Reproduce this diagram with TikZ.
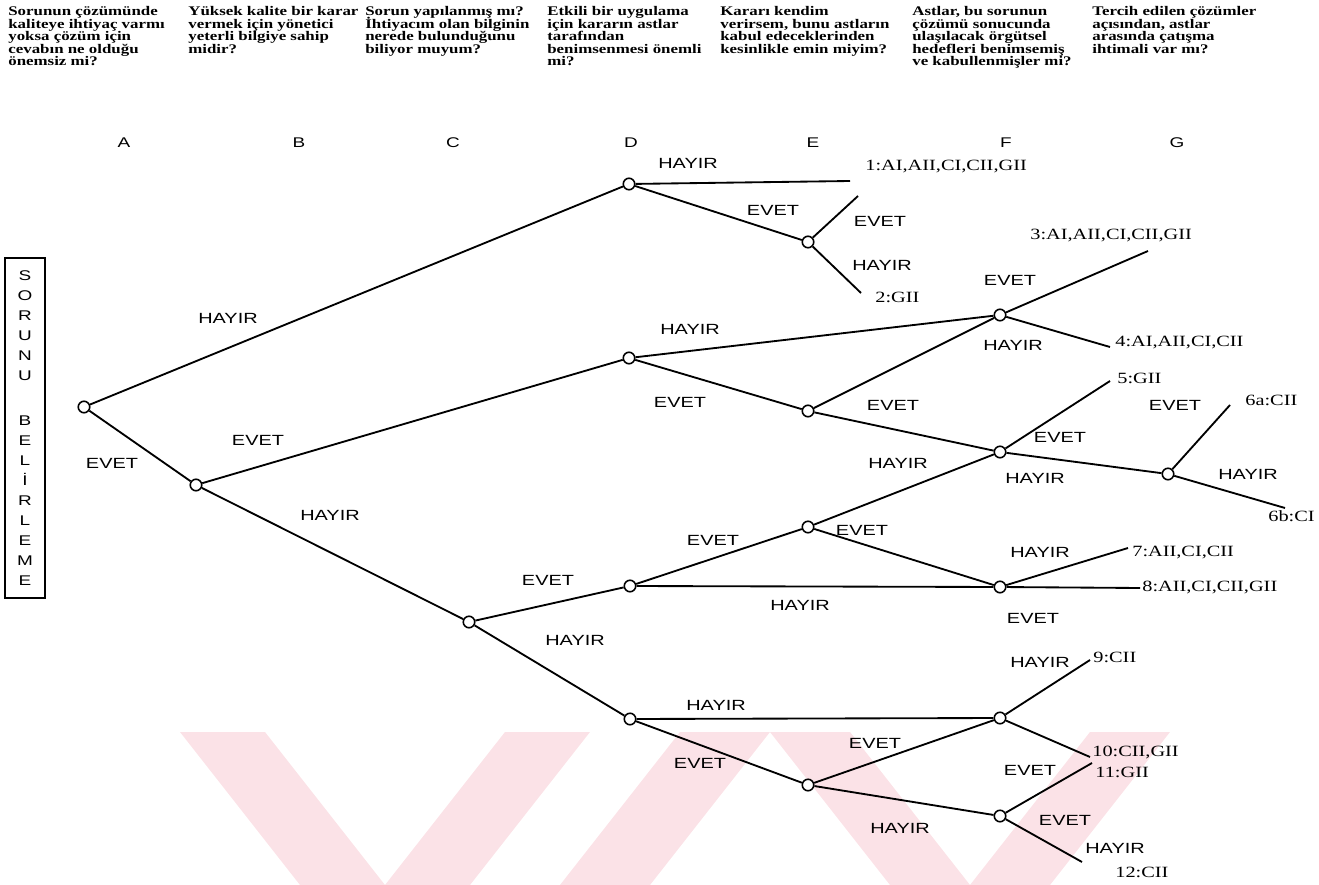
\documentclass[tikz,border=0pt]{standalone}
\usepackage{fontspec}
\setmainfont{Liberation Serif}
\newfontfamily\quesfont[FakeStretch=1.28]{Liberation Serif}
\newfontfamily\ansfont[FakeStretch=1.35]{Liberation Sans}
\newfontfamily\outfont[FakeStretch=1.3]{Liberation Serif}
\newcommand\quesstyle{\quesfont\bfseries\fontsize{7.5}{7.15}\selectfont\lineskiplimit=-5pt\relax}
\definecolor{markpink}{RGB}{251,226,231}

\begin{document}
\begin{tikzpicture}[
        x=0.02cm, y=-0.02cm,
        dec/.style={circle, draw, fill=white, line width=0.9pt, minimum size=0.23cm, inner sep=0pt},
        branch/.style={line width=1.05pt},
        ans/.style={font=\ansfont\fontsize{8.4}{9}\selectfont, inner sep=0pt},
        outcome/.style={font=\outfont\fontsize{8.9}{10}\selectfont, anchor=west, inner sep=0pt},
        ques/.style={font=\quesstyle, align=left, anchor=north west, inner sep=0pt},
        col/.style={font=\ansfont\fontsize{8}{8}\selectfont, inner sep=0pt},
        stripe/.style={fill=markpink, draw=none},
    ]
        \useasboundingbox (0,0) rectangle (1319,885);

        % Stripes at the bottom
        \fill[stripe] (180,732) -- (265,732) -- (385,885) -- (300,885) -- cycle;
        \fill[stripe] (385,885) -- (470,885) -- (590,732) -- (505,732) -- cycle;
        \fill[stripe] (560,885) -- (650,885) -- (770,732) -- (680,732) -- cycle;
        \fill[stripe] (770,732) -- (850,732) -- (970,885) -- (890,885) -- cycle;
        \fill[stripe] (970,885) -- (1050,885) -- (1170,732) -- (1090,732) -- cycle;

        % Questions
        \node[ques] (qA) at (8,6) {Sorunun çözümünde\\kaliteye ihtiyaç varmı\\yoksa çözüm için\\cevabın ne olduğu\\önemsiz mi?};
        \node[ques] (qB) at (188,6) {Yüksek kalite bir karar\\vermek için yönetici\\yeterli bilgiye sahip\\midir?};
        \node[ques] (qC) at (365,6) {Sorun yapılanmış mı?\\İhtiyacım olan bilginin\\nerede bulunduğunu\\biliyor muyum?};
        \node[ques] (qD) at (547,6) {Etkili bir uygulama\\için kararın astlar\\tarafından\\benimsenmesi önemli\\mi?};
        \node[ques] (qE) at (720,6) {Kararı kendim\\verirsem, bunu astların\\kabul edeceklerinden\\kesinlikle emin miyim?};
        \node[ques] (qF) at (912,6) {Astlar, bu sorunun\\çözümü sonucunda\\ulaşılacak örgütsel\\hedefleri benimsemiş\\ve kabullenmişler mi?};
        \node[ques] (qG) at (1092,6) {Tercih edilen çözümler\\açısından, astlar\\arasında çatışma\\ihtimali var mı?};

        \node[col] (cA) at (124,143) {A};
        \node[col] (cB) at (299,143) {B};
        \node[col] (cC) at (453,143) {C};
        \node[col] (cD) at (631,143) {D};
        \node[col] (cE) at (813,143) {E};
        \node[col] (cF) at (1006,143) {F};
        \node[col] (cG) at (1177,143) {G};

        % Start box
        \node[draw, line width=0.8pt, minimum width=0.8cm, minimum height=6.8cm, align=center,
              font=\ansfont\fontsize{8}{11.4}\selectfont] (start) at (25,428)
              {S\\O\\R\\U\\N\\U\\[14pt]B\\E\\L\\İ\\R\\L\\E\\M\\E};

        % Decision points
        \node[dec] (nA) at (84,407) {};
        \node[dec] (nB) at (196,485) {};
        \node[dec] (nC) at (469,622) {};
        \node[dec] (nD1) at (629,184) {};
        \node[dec] (nD2) at (629,358) {};
        \node[dec] (nD3) at (630,586) {};
        \node[dec] (nD4) at (630,719) {};
        \node[dec] (nE1) at (808,242) {};
        \node[dec] (nE2) at (808,411) {};
        \node[dec] (nE3) at (808,527) {};
        \node[dec] (nE4) at (808,785) {};
        \node[dec] (nF1) at (1000,315) {};
        \node[dec] (nF2) at (1000,452) {};
        \node[dec] (nF3) at (1000,587) {};
        \node[dec] (nF4) at (1000,718) {};
        \node[dec] (nF5) at (1000,816) {};
        \node[dec] (nG) at (1168,474) {};

        % Loose ends
        \coordinate (o1) at (850,181);
        \coordinate (o1b) at (858,196);
        \coordinate (o2) at (861,293);
        \coordinate (o3) at (1148,251);
        \coordinate (o4) at (1110,347);
        \coordinate (o5) at (1110,381);
        \coordinate (o6a) at (1230,405);
        \coordinate (o6b) at (1285,508);
        \coordinate (o7) at (1128,548);
        \coordinate (o8) at (1140,588);
        \coordinate (o9) at (1090,660);
        \coordinate (o10) at (1090,757);
        \coordinate (o11) at (1092,763);
        \coordinate (o12) at (1082,862);

        % Branches
        \draw[branch] (nA) -- (nD1);
        \draw[branch] (nA) -- (nB);
        \draw[branch] (nB) -- (nD2);
        \draw[branch] (nB) -- (nC);
        \draw[branch] (nC) -- (nD3);
        \draw[branch] (nC) -- (nD4);
        \draw[branch] (nD1) -- (o1);
        \draw[branch] (nD1) -- (nE1);
        \draw[branch] (nE1) -- (o1b);
        \draw[branch] (nE1) -- (o2);
        \draw[branch] (nD2) -- (nF1);
        \draw[branch] (nD2) -- (nE2);
        \draw[branch] (nE2) -- (nF1);
        \draw[branch] (nE2) -- (nF2);
        \draw[branch] (nF1) -- (o3);
        \draw[branch] (nF1) -- (o4);
        \draw[branch] (nF2) -- (o5);
        \draw[branch] (nF2) -- (nG);
        \draw[branch] (nG) -- (o6a);
        \draw[branch] (nG) -- (o6b);
        \draw[branch] (nD3) -- (nE3);
        \draw[branch] (nD3) -- (nF3);
        \draw[branch] (nE3) -- (nF2);
        \draw[branch] (nE3) -- (nF3);
        \draw[branch] (nF3) -- (o7);
        \draw[branch] (nF3) -- (o8);
        \draw[branch] (nD4) -- (nF4);
        \draw[branch] (nD4) -- (nE4);
        \draw[branch] (nE4) -- (nF4);
        \draw[branch] (nE4) -- (nF5);
        \draw[branch] (nF4) -- (o9);
        \draw[branch] (nF4) -- (o10);
        \draw[branch] (nF5) -- (o11);
        \draw[branch] (nF5) -- (o12);

        % Answers
        \node[ans] (a1) at (228,318) {HAYIR};
        \node[ans] (a2) at (112,463) {EVET};
        \node[ans] (a3) at (258,440) {EVET};
        \node[ans] (a4) at (330,515) {HAYIR};
        \node[ans] (a5) at (548,580) {EVET};
        \node[ans] (a6) at (575,640) {HAYIR};
        \node[ans] (a7) at (688,163) {HAYIR};
        \node[ans] (a8) at (773,210) {EVET};
        \node[ans] (a9) at (880,221) {EVET};
        \node[ans] (a10) at (882,265) {HAYIR};
        \node[ans] (a11) at (690,329) {HAYIR};
        \node[ans] (a12) at (680,402) {EVET};
        \node[ans] (a13) at (1010,280) {EVET};
        \node[ans] (a14) at (1013,345) {HAYIR};
        \node[ans] (a15) at (893,405) {EVET};
        \node[ans] (a16) at (898,463) {HAYIR};
        \node[ans] (a17) at (1060,437) {EVET};
        \node[ans] (a18) at (1035,478) {HAYIR};
        \node[ans] (a19) at (1175,405) {EVET};
        \node[ans] (a20) at (1248,474) {HAYIR};
        \node[ans] (a21) at (713,540) {EVET};
        \node[ans] (a22) at (862,530) {EVET};
        \node[ans] (a23) at (800,605) {HAYIR};
        \node[ans] (a24) at (1040,552) {HAYIR};
        \node[ans] (a25) at (1033,618) {EVET};
        \node[ans] (a26) at (716,705) {HAYIR};
        \node[ans] (a27) at (700,763) {EVET};
        \node[ans] (a28) at (1040,662) {HAYIR};
        \node[ans] (a29) at (875,743) {EVET};
        \node[ans] (a30) at (900,828) {HAYIR};
        \node[ans] (a31) at (1030,770) {EVET};
        \node[ans] (a32) at (1065,820) {EVET};
        \node[ans] (a33) at (1115,848) {HAYIR};

        % Outcomes
        \node[outcome] (r1) at (865,167) {1:AI,AII,CI,CII,GII};
        \node[outcome] (r2) at (875,297) {2:GII};
        \node[outcome] (r3) at (1030,236) {3:AI,AII,CI,CII,GII};
        \node[outcome] (r4) at (1115,343) {4:AI,AII,CI,CII};
        \node[outcome] (r5) at (1117,378) {5:GII};
        \node[outcome] (r6a) at (1245,400) {6a:CII};
        \node[outcome] (r6b) at (1268,516) {6b:CI};
        \node[outcome] (r7) at (1132,553) {7:AII,CI,CII};
        \node[outcome] (r8) at (1142,588) {8:AII,CI,CII,GII};
        \node[outcome] (r9) at (1093,657) {9:CII};
        \node[outcome] (r10) at (1092,752) {10:CII,GII};
        \node[outcome] (r11) at (1095,772) {11:GII};
        \node[outcome] (r12) at (1115,872) {12:CII};
    \end{tikzpicture}
\end{document}
